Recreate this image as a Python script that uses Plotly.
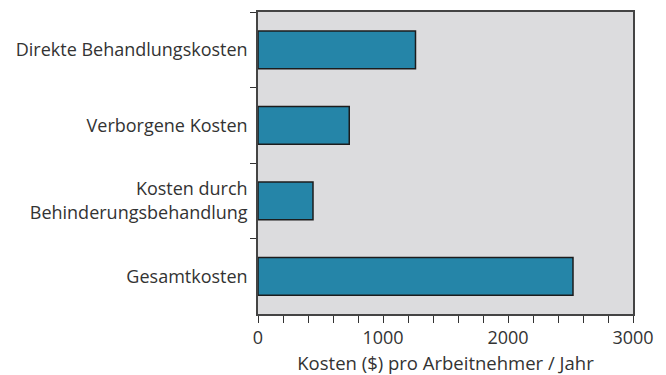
import plotly.graph_objects as go

categories = ["Direkte Behandlungskosten", "Verborgene Kosten",
              "Kosten durch<br>Behinderungsbehandlung", "Gesamtkosten"]
values = [1260, 730, 440, 2520]
x_ticks = [0, 1000, 2000, 3000]
x_title = "Kosten ($) pro Arbeitnehmer / Jahr"

fig = go.Figure(go.Bar(
    x=values, y=categories, orientation="h", width=0.5,
    marker=dict(color="#2585a8", line=dict(color="#1c1c1c", width=1.5)),
))

font = dict(family="Open Sans", size=18, color="#333333")
fig.update_layout(
    width=666, height=375,
    margin=dict(l=258, r=33, t=12, b=61),
    paper_bgcolor="white", plot_bgcolor="#dcdcde",
    font=font, showlegend=False,
    bargap=0.5,
)
fig.update_xaxes(
    range=[0, 3000], tickvals=x_ticks, ticktext=[str(v) for v in x_ticks],
    ticks="outside", ticklen=7, tickcolor="#333", tickwidth=1,
    minor=dict(dtick=200, ticks="outside", ticklen=7, tickcolor="#333", showgrid=False),
    showgrid=False, zeroline=False, automargin=False,
    showline=True, linecolor="#444", linewidth=1.5, mirror=True,
    title=dict(text=x_title, standoff=10, font=dict(family="Open Sans", size=18.5, color="#333333")),
    tickfont=font,
)
fig.update_yaxes(
    categoryorder="array", categoryarray=categories, autorange=False,
    range=[3.5, -0.5], automargin=False,
    tickson="boundaries", ticks="outside", ticklen=6, tickcolor="#333",
    showgrid=False, zeroline=False,
    showline=True, linecolor="#444", linewidth=1.5, mirror=True,
    ticklabelstandoff=5,
    tickfont=font,
)
fig.write_html("out.html")
